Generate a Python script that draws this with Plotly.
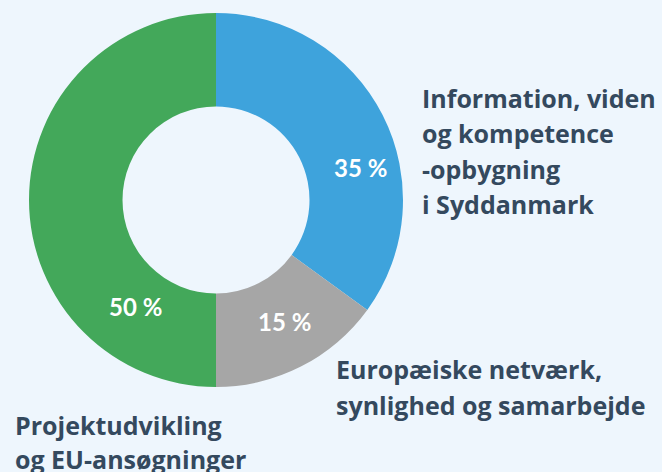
import plotly.graph_objects as go

# ---- data ----
categories = [
    "Information, viden<br>og kompetence<br>-opbygning<br>i Syddanmark",
    "Europæiske netværk,<br>synlighed og samarbejde",
    "Projektudvikling<br>og EU-ansøgninger",
]
values = [35, 15, 50]
colors = ["#3ea3dc", "#a6a6a6", "#43a85a"]

W, H = 662, 472
BG = "#eef6fd"
TEXT = "#34495e"

fig = go.Figure()
fig.add_trace(go.Pie(
    labels=categories,
    values=values,
    hole=0.5,
    sort=False,
    direction="clockwise",
    rotation=0,
    marker=dict(colors=colors, line=dict(width=0)),
    textinfo="none",
    hoverinfo="label+percent",
    showlegend=False,
    domain=dict(x=[29 / W, 403 / W], y=[1 - 387 / H, 1 - 13 / H]),
))

def px(x, y):
    return x / W, 1 - y / H

annotations = []
# percent labels (positions are layout only; text from values)
pct_pos = [(360, 167), (284, 321), (135, 306)]
for v, (x, y) in zip(values, pct_pos):
    xx, yy = px(x, y)
    annotations.append(dict(
        x=xx, y=yy, xref="paper", yref="paper", xanchor="center", yanchor="middle",
        text=f"<b>{v} %</b>", showarrow=False,
        font=dict(family="Lato", size=24, color="white"),
    ))

# category labels, one annotation per line
label_pos = [(420, 106, 35.5), (334, 377, 36), (13, 433, 34.5)]
FS = 25
for cat, (x, base, lh) in zip(categories, label_pos):
    for i, line in enumerate(cat.split("<br>")):
        yb = base + i * lh
        xx, yy = px(x, yb - 0.34 * FS)
        annotations.append(dict(
            x=xx, y=yy, xref="paper", yref="paper", xanchor="left", yanchor="middle",
            text=f"<b>{line}</b>", showarrow=False,
            font=dict(family="Open Sans", size=FS, color=TEXT),
        ))

fig.update_layout(
    width=W, height=H, autosize=False,
    margin=dict(l=0, r=0, t=0, b=0),
    paper_bgcolor=BG, plot_bgcolor=BG,
    annotations=annotations,
)

fig.write_html("out.html", config={"displayModeBar": False},
               post_script="document.body.style.margin='0px';")
